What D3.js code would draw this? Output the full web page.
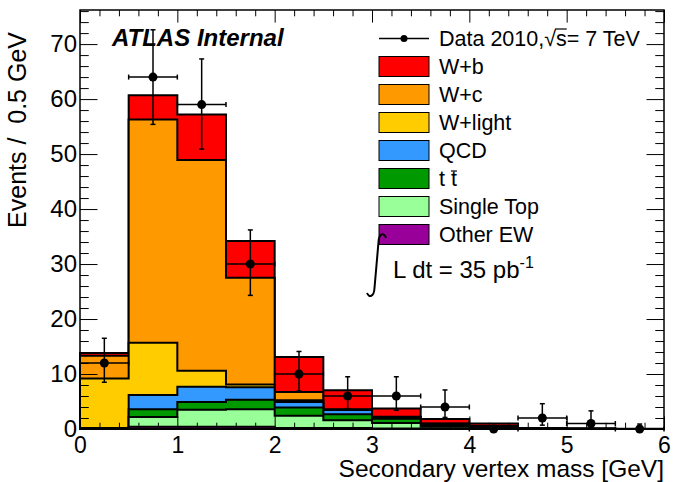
<!DOCTYPE html>
<html>
<head>
<meta charset="utf-8">
<script src="https://cdnjs.cloudflare.com/ajax/libs/d3/7.8.5/d3.min.js"></script>
<style>
  body { margin: 0; background: #fff; }
  svg text { font-family: "Liberation Sans", Arial, Helvetica, sans-serif; fill: #000; }
</style>
</head>
<body>
<svg id="chart"></svg>
<script>
// bins of secondary vertex mass, 0.5 GeV wide
const binLow = [0, 0.5, 1.0, 1.5, 2.0, 2.5, 3.0, 3.5, 4.0, 4.5, 5.0, 5.5];
const binWidth = 0.5;

// data points with (asymmetric) poisson errors
const dataCounts  = [12, 64, 59, 30, 10, 6, 6, 4, 0, 2, 1, 0];
const dataErrUp   = [4.5, 8.6, 8.3, 6.2, 4.1, 3.5, 3.5, 3.1, 0, 2.6, 2.3, 0.9];
const dataErrDown = [3.5, 8.6, 8.1, 5.7, 3.1, 2.3, 2.6, 1.9, 0, 1.3, 0.8, 0];

// MC components, stacked bottom -> top
const otherEW   = [0.05, 0.4, 0.4, 0.4, 0.2, 0.2, 0.1, 0.1, 0.05, 0.02, 0.01, 0];
const singleTop = [0.05, 1.8, 3.1, 3.2, 2.2, 1.4, 1.0, 0.3, 0.15, 0.03, 0.01, 0];
const ttbar     = [0.05, 1.4, 1.4, 1.7, 1.5, 1.1, 0.75, 0.3, 0.15, 0.03, 0.01, 0];
const qcd       = [0.05, 2.6, 2.8, 2.3, 1.0, 0.75, 0.35, 0.2, 0.1, 0.02, 0.01, 0];
const wLight    = [9.0, 9.5, 2.9, 0.5, 0.35, 0.05, 0, 0.05, 0.05, 0.02, 0.01, 0];
const wc        = [4.1, 40.6, 38.3, 19.4, 1.5, 0.1, 0.05, 0.05, 0.05, 0.02, 0.01, 0];
const wb        = [0.5, 4.4, 8.3, 6.7, 6.35, 3.45, 1.5, 0.8, 0.45, 0.04, 0.04, 0.05];

const keys   = ["otherEW", "singleTop", "ttbar", "qcd", "wLight", "wc", "wb"];
const labels = {wb: "W+b", wc: "W+c", wLight: "W+light", qcd: "QCD", ttbar: "t t", singleTop: "Single Top", otherEW: "Other EW"};
const colors = {wb: "#ff0000", wc: "#ff9900", wLight: "#ffcc00", qcd: "#3399ff", ttbar: "#009900", singleTop: "#99ff99", otherEW: "#990099"};
const legendOrder = ["wb", "wc", "wLight", "qcd", "ttbar", "singleTop", "otherEW"];

const xTicks = [0, 1, 2, 3, 4, 5, 6];
const yTicks = [0, 10, 20, 30, 40, 50, 60, 70];

const W = 673, H = 482;
const frame = { left: 80, right: 664, top: 10, bottom: 429 };

const svg = d3.select("#chart").attr("width", W).attr("height", H);

const x = d3.scaleLinear().domain([0, 6]).range([frame.left, frame.right]);
const y = d3.scaleLinear().domain([0, 76.2]).range([frame.bottom, frame.top]);

// build table for d3.stack
const series = { otherEW, singleTop, ttbar, qcd, wLight, wc, wb };
const table = binLow.map((lo, i) => {
  const row = { lo: lo };
  keys.forEach(k => row[k] = series[k][i]);
  return row;
});
const stacked = d3.stack().keys(keys)(table);

const line = d3.line().x(d => x(d[0])).y(d => y(d[1]));

// draw from top of stack down, each as filled step histogram from zero (ROOT THStack style)
const histG = svg.append("g");
stacked.slice().reverse().forEach(s => {
  const pts = [[0, 0]];
  s.forEach(d => {
    pts.push([d.data.lo, d[1]]);
    pts.push([d.data.lo + binWidth, d[1]]);
  });
  pts.push([6, 0]);
  histG.append("path")
    .attr("d", line(pts) + "Z")
    .attr("fill", colors[s.key])
    .attr("stroke", "#000")
    .attr("stroke-width", 2)
    .attr("stroke-linejoin", "miter");
});

// axes (ticks inside the frame, like ROOT)
const majX = 12.6, minX = 6.3, majY = 17.5, minY = 8.75;
const xMinor = d3.range(0, 6.01, 0.2).map(v => +v.toFixed(1)).filter(v => !xTicks.includes(v));
const yMinor = d3.range(0, 77, 2).filter(v => v % 10 !== 0);

function styleAxis(g) {
  g.select(".domain").remove();
  g.selectAll("line").attr("stroke", "#000").attr("stroke-width", 1);
}

svg.append("g").attr("transform", `translate(0,${frame.bottom})`)
  .call(d3.axisBottom(x).tickValues(xTicks).tickSizeInner(-majX).tickSizeOuter(0).tickPadding(8).tickFormat(d3.format("d")))
  .call(styleAxis)
  .selectAll("text").attr("font-size", 23).attr("fill", "#000");
svg.append("g").attr("transform", `translate(0,${frame.bottom})`)
  .call(d3.axisBottom(x).tickValues(xMinor).tickSizeInner(-minX).tickSizeOuter(0).tickFormat(""))
  .call(styleAxis);
svg.append("g").attr("transform", `translate(0,${frame.top})`)
  .call(d3.axisTop(x).tickValues(xTicks).tickSizeInner(-majX).tickSizeOuter(0).tickFormat(""))
  .call(styleAxis);
svg.append("g").attr("transform", `translate(0,${frame.top})`)
  .call(d3.axisTop(x).tickValues(xMinor).tickSizeInner(-minX).tickSizeOuter(0).tickFormat(""))
  .call(styleAxis);

svg.append("g").attr("transform", `translate(${frame.left},0)`)
  .call(d3.axisLeft(y).tickValues(yTicks).tickSizeInner(-majY).tickSizeOuter(0).tickPadding(3).tickFormat(d3.format("d")))
  .call(styleAxis)
  .selectAll("text").attr("font-size", 24).attr("fill", "#000");
svg.append("g").attr("transform", `translate(${frame.left},0)`)
  .call(d3.axisLeft(y).tickValues(yMinor).tickSizeInner(-minY).tickSizeOuter(0).tickFormat(""))
  .call(styleAxis);
svg.append("g").attr("transform", `translate(${frame.right},0)`)
  .call(d3.axisRight(y).tickValues(yTicks).tickSizeInner(-majY).tickSizeOuter(0).tickFormat(""))
  .call(styleAxis);
svg.append("g").attr("transform", `translate(${frame.right},0)`)
  .call(d3.axisRight(y).tickValues(yMinor).tickSizeInner(-minY).tickSizeOuter(0).tickFormat(""))
  .call(styleAxis);

// frame
svg.append("rect")
  .attr("x", frame.left).attr("y", frame.top)
  .attr("width", frame.right - frame.left).attr("height", frame.bottom - frame.top)
  .attr("fill", "none").attr("stroke", "#000").attr("stroke-width", 1.5);

// axis titles
svg.append("text")
  .attr("x", frame.right).attr("y", 477)
  .attr("text-anchor", "end").attr("font-size", 24.5)
  .text("Secondary vertex mass [GeV]");
svg.append("text")
  .attr("transform", "translate(26,32) rotate(-90)")
  .attr("text-anchor", "end").attr("font-size", 25)
  .attr("xml:space", "preserve")
  .style("white-space", "pre")
  .text("Events /  0.5 GeV");

// ATLAS label
svg.append("text")
  .attr("x", 112).attr("y", 46)
  .attr("font-size", 24).attr("font-weight", "bold").attr("font-style", "italic")
  .text("ATLAS Internal");

// data points with error bars
const cap = 2.5;
const dataG = svg.append("g").attr("stroke", "#000").attr("stroke-width", 1.5);
binLow.forEach((lo, i) => {
  const cx = x(lo + binWidth / 2), cy = y(dataCounts[i]);
  const xl = x(lo), xr = x(lo + binWidth);
  dataG.append("line").attr("x1", xl).attr("x2", xr).attr("y1", cy).attr("y2", cy);
  dataG.append("line").attr("x1", xl).attr("x2", xl).attr("y1", cy - cap).attr("y2", cy + cap);
  dataG.append("line").attr("x1", xr).attr("x2", xr).attr("y1", cy - cap).attr("y2", cy + cap);
  if (dataErrUp[i] > 0) {
    const yt = y(dataCounts[i] + dataErrUp[i]);
    dataG.append("line").attr("x1", cx).attr("x2", cx).attr("y1", cy).attr("y2", yt);
    dataG.append("line").attr("x1", cx - cap).attr("x2", cx + cap).attr("y1", yt).attr("y2", yt);
  }
  if (dataErrDown[i] > 0) {
    const yb = y(dataCounts[i] - dataErrDown[i]);
    dataG.append("line").attr("x1", cx).attr("x2", cx).attr("y1", cy).attr("y2", yb);
    dataG.append("line").attr("x1", cx - cap).attr("x2", cx + cap).attr("y1", yb).attr("y2", yb);
  }
  dataG.append("circle").attr("cx", cx).attr("cy", cy).attr("r", 4.5).attr("fill", "#000").attr("stroke", "none");
});

// legend
const leg = { x: 379, top: 38.5, row: 28, boxW: 50, boxH: 20, textX: 439, fs: 21.5 };
const legG = svg.append("g");

legG.append("line").attr("x1", leg.x).attr("x2", leg.x + leg.boxW)
  .attr("y1", leg.top).attr("y2", leg.top).attr("stroke", "#000").attr("stroke-width", 1.5);
legG.append("circle").attr("cx", leg.x + leg.boxW / 2).attr("cy", leg.top).attr("r", 3.5).attr("fill", "#000");
const dataLabel = legG.append("text")
  .attr("x", leg.textX).attr("y", leg.top + 7.5).attr("font-size", leg.fs)
  .text("Data 2010,\u221As= 7 TeV");
{
  const n = dataLabel.node();
  const rootBox = n.getExtentOfChar(10);
  const sBox = n.getExtentOfChar(11);
  legG.append("line")
    .attr("x1", rootBox.x + rootBox.width - 1).attr("x2", sBox.x + sBox.width)
    .attr("y1", rootBox.y + 2).attr("y2", rootBox.y + 2)
    .attr("stroke", "#000").attr("stroke-width", 1.2);
}

legendOrder.forEach((k, i) => {
  const cy = leg.top + leg.row * (i + 1);
  legG.append("rect")
    .attr("x", leg.x).attr("y", cy - leg.boxH / 2)
    .attr("width", leg.boxW).attr("height", leg.boxH)
    .attr("fill", colors[k]).attr("stroke", "#000").attr("stroke-width", 1);
  const t = legG.append("text")
    .attr("x", leg.textX).attr("y", cy + 7.5).attr("font-size", leg.fs)
    .text(labels[k]);
  if (k === "ttbar") {
    const b = t.node().getExtentOfChar(2);
    legG.append("line")
      .attr("x1", b.x).attr("x2", b.x + b.width)
      .attr("y1", cy + 7.5 - 15).attr("y2", cy + 7.5 - 15)
      .attr("stroke", "#000").attr("stroke-width", 1.2);
  }
});

// luminosity
svg.append("path")
  .attr("d", "M 386 238 C 384 232, 379 233, 378.5 242 L 374.5 288 C 374 297, 369 298, 367 293")
  .attr("fill", "none").attr("stroke", "#000").attr("stroke-width", 2);
const lumi = svg.append("text").attr("x", 393).attr("y", 278).attr("font-size", 24)
  .attr("xml:space", "preserve");
lumi.append("tspan").text("L dt = 35 pb");
lumi.append("tspan").attr("dy", -10).attr("font-size", 16).text("-1");
</script>
</body>
</html>
